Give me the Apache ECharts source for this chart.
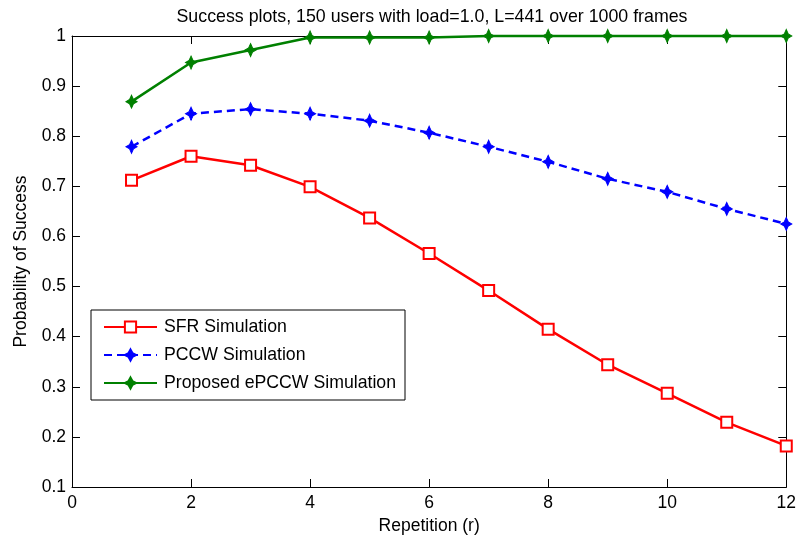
<!DOCTYPE html>
<html>
<head>
<meta charset="utf-8">
<script src="https://cdn.jsdelivr.net/npm/echarts@6/dist/echarts.min.js"></script>
<style>html,body{margin:0;padding:0;background:#fff}#c{width:799px;height:542px}</style>
</head>
<body>
<div id="c"></div>
<script>
const repetitions = [1, 2, 3, 4, 5, 6, 7, 8, 9, 10, 11, 12];
const sfrValues = [0.712, 0.760, 0.742, 0.699, 0.637, 0.566, 0.492, 0.415, 0.344, 0.287, 0.229, 0.182];
const pccwValues = [0.779, 0.845, 0.854, 0.845, 0.831, 0.807, 0.779, 0.749, 0.715, 0.689, 0.655, 0.625];
const epccwValues = [0.869, 0.947, 0.972, 0.997, 0.997, 0.997, 1.0, 1.0, 1.0, 1.0, 1.0, 1.0];
const seriesNames = ['SFR Simulation', 'PCCW Simulation', 'Proposed ePCCW Simulation'];
const titleText = 'Success plots, 150 users with load=1.0, L=441 over 1000 frames';

const FONT = '"Liberation Sans", Arial, Helvetica, sans-serif';
const FS = 17.5;
const starPath = 'path://M0,-7 L2.2,-2.2 L6,0 L2.2,2.2 L0,7 L-2.2,2.2 L-6,0 L-2.2,-2.2 Z';
const pairs = v => repetitions.map((x, i) => [x, v[i]]);

const chart = echarts.init(document.getElementById('c'), null, {renderer: 'canvas'});
const axisCommon = {
  axisLine: {show: true, onZero: false, lineStyle: {color: '#000', width: 1}},
  axisTick: {show: true, inside: true, length: 8, lineStyle: {color: '#000'}},
  splitLine: {show: false}
};
chart.setOption({
  animation: false,
  backgroundColor: '#fff',
  textStyle: {fontFamily: FONT},
  title: {
    text: titleText, left: 427, textAlign: 'center', top: 3,
    textStyle: {fontSize: 17.8, fontWeight: 'normal', color: '#000', fontFamily: FONT}
  },
  grid: {left: 72, top: 36, right: 11, bottom: 55, containLabel: false},
  legend: {
    orient: 'vertical', left: 91, top: 310,
    padding: [8, 9, 8, 12],
    itemWidth: 53, itemHeight: 14, itemGap: 10,
    backgroundColor: '#fff', borderColor: '#000', borderWidth: 1,
    textStyle: {fontSize: 17.7, color: '#000', fontFamily: FONT, padding: [0, 0, 0, 2]},
    data: seriesNames
  },
  xAxis: [
    Object.assign({}, axisCommon, {
      type: 'value', min: 0, max: 12, interval: 2, position: 'bottom',
      name: 'Repetition (r)', nameLocation: 'middle', nameGap: 30,
      nameTextStyle: {fontSize: FS, color: '#000', fontFamily: FONT},
      axisLabel: {fontSize: FS, color: '#000', margin: 7, fontFamily: FONT}
    }),
    Object.assign({}, axisCommon, {
      type: 'value', min: 0, max: 12, interval: 2, position: 'top',
      axisLabel: {show: false}
    })
  ],
  yAxis: [
    Object.assign({}, axisCommon, {
      type: 'value', min: 0.1, max: 1, interval: 0.1, position: 'left',
      name: 'Probability of Success', nameLocation: 'middle', nameGap: 42, nameRotate: 90,
      nameTextStyle: {fontSize: FS, color: '#000', fontFamily: FONT},
      axisLabel: {fontSize: FS, color: '#000', margin: 6, fontFamily: FONT,
        formatter: v => String(Math.round(v * 10) / 10)}
    }),
    Object.assign({}, axisCommon, {
      type: 'value', min: 0.1, max: 1, interval: 0.1, position: 'right',
      axisLabel: {show: false}
    })
  ],
  series: [
    {
      name: seriesNames[0], type: 'line', data: pairs(sfrValues), clip: false,
      symbol: 'rect', symbolSize: 11, showAllSymbol: true,
      lineStyle: {color: '#ff0000', width: 2.5},
      itemStyle: {color: '#ffffff', borderColor: '#ff0000', borderWidth: 2},
      z: 3
    },
    {
      name: seriesNames[1], type: 'line', data: pairs(pccwValues), clip: false,
      symbol: starPath, symbolSize: [11, 13], showAllSymbol: true,
      lineStyle: {color: '#0000ff', width: 2.5, type: [8, 5]},
      itemStyle: {color: '#0000ff', borderColor: '#0000ff', borderWidth: 1},
      z: 4
    },
    {
      name: seriesNames[2], type: 'line', data: pairs(epccwValues), clip: false,
      symbol: starPath, symbolSize: [11, 13], showAllSymbol: true,
      lineStyle: {color: '#008000', width: 2.5},
      itemStyle: {color: '#008000', borderColor: '#008000', borderWidth: 1},
      z: 5
    }
  ]
});
</script>
</body>
</html>
